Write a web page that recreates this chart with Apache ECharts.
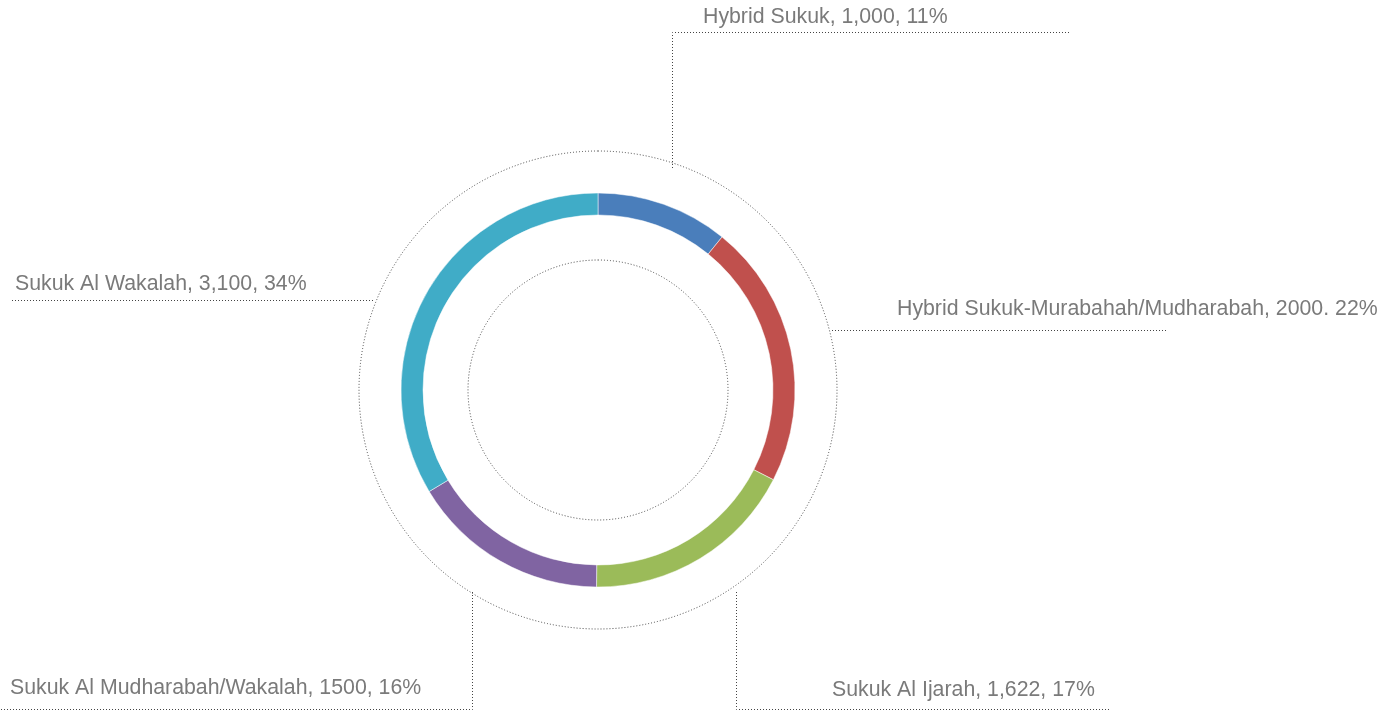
<!DOCTYPE html>
<html>
<head>
<meta charset="utf-8">
<style>
  html, body { margin: 0; padding: 0; background: #fff; }
  #chart { width: 1395px; height: 720px; }
</style>
<script src="https://cdn.jsdelivr.net/npm/echarts@6/dist/echarts.min.js"></script>
</head>
<body>
<div id="chart"></div>
<script>
// sukuk issuance by structure
var names = [
  'Hybrid Sukuk',
  'Hybrid Sukuk-Murabahah/Mudharabah',
  'Sukuk Al Ijarah',
  'Sukuk Al Mudharabah/Wakalah',
  'Sukuk Al Wakalah'
]
var values = [1000, 2000, 1622, 1500, 3100]
// label texts exactly as printed on the chart
var labelTexts = [
  'Hybrid Sukuk, 1,000, 11%',
  'Hybrid Sukuk-Murabahah/Mudharabah, 2000. 22%',
  'Sukuk Al Ijarah, 1,622, 17%',
  'Sukuk Al Mudharabah/Wakalah, 1500, 16%',
  'Sukuk Al Wakalah, 3,100, 34%'
]
var colors = ['#4a7ebb', '#c0504d', '#9bbb59', '#8064a2', '#40acc7']

// where each label and its leader line sit (hand placed, like the original)
var labelSpots = [
  { x: 703, y: 17, line: [[672.5, 168], [672.5, 32.5], [1070, 32.5]] },
  { x: 897, y: 309, line: [[832, 330.5], [1000, 330.5], [1168, 330.5]] },
  { x: 832, y: 690, line: [[736.5, 592], [736.5, 709.5], [1110, 709.5]] },
  { x: 10, y: 688, line: [[472.5, 592], [472.5, 709.5], [0, 709.5]] },
  { x: 15, y: 284, line: [[373, 300.5], [200, 300.5], [12, 300.5]] }
]

var center = [598, 390]
var dotted = [1, 2]

var chart = echarts.init(document.getElementById('chart'))

function guideCircle(r) {
  return {
    type: 'pie',
    silent: true,
    center: center,
    radius: [0, r],
    z: 1,
    animation: false,
    label: { show: false },
    labelLine: { show: false },
    emphasis: { disabled: true },
    itemStyle: {
      color: 'rgba(0,0,0,0)',
      borderColor: '#444',
      borderWidth: 1,
      borderType: dotted
    },
    data: [{ value: 1, name: 'guide' }]
  }
}

chart.setOption({
  animation: false,
  color: colors,
  series: [
    guideCircle(239),
    guideCircle(130),
    {
      type: 'pie',
      center: center,
      radius: [175, 197],
      startAngle: 90,
      clockwise: true,
      z: 2,
      itemStyle: { borderColor: '#fff', borderWidth: 0.5 },
      emphasis: { disabled: true },
      label: {
        show: true,
        position: 'outside',
        color: '#7a7a7a',
        fontFamily: 'Liberation Sans, Arial, sans-serif',
        fontSize: 21.3,
        formatter: function (p) {
          return labelTexts[p.dataIndex]
        }
      },
      labelLine: {
        show: true,
        lineStyle: { color: '#444', width: 1, type: dotted }
      },
      labelLayout: function (p) {
        var s = labelSpots[p.dataIndex]
        return {
          x: s.x,
          y: s.y,
          align: 'left',
          verticalAlign: 'middle',
          labelLinePoints: s.line
        }
      },
      data: names.map(function (n, i) {
        return { name: n, value: values[i] }
      })
    }
  ]
})
</script>
</body>
</html>
